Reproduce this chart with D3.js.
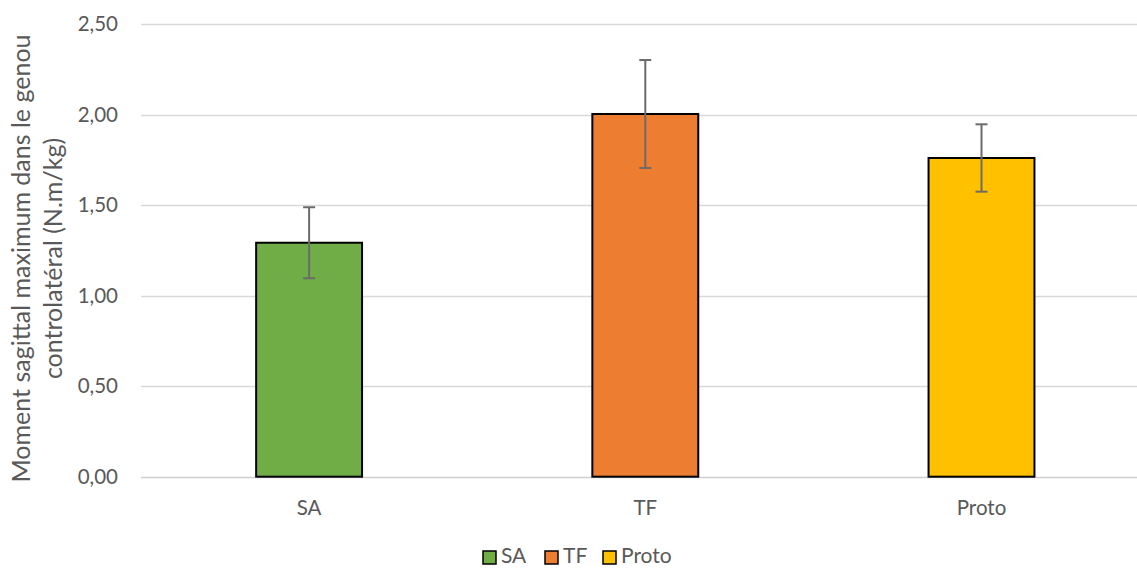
<!DOCTYPE html>
<html><head><meta charset="utf-8">
<script src="https://cdn.jsdelivr.net/npm/d3@7"></script>
<style>body{margin:0;background:#fff}svg{display:block;font-family:Lato,"Open Sans",sans-serif}</style>
</head><body><svg id="c" width="1137" height="568"></svg>
<script>
const categories = ["SA","TF","Proto"];
const values = [1.292, 2.003, 1.760];
const errors = [0.196, 0.298, 0.186];
const colors = ["#70AD47","#ED7D31","#FFC000"];
const yTicks = [0,0.5,1,1.5,2,2.5];
const yTitle = ["Moment sagittal maximum dans le genou","controlatéral (N.m/kg)"];

const svg = d3.select("#c");
const x = d3.scaleBand().domain(categories).range([141,1149.6]).paddingInner(0.685).paddingOuter(0.3425);
const y = d3.scaleLinear().domain([0,2.5]).range([476.7,24]);
const fmt = v => d3.format(".2f")(v).replace(".",",");
const FS = "20.5px";

// gridlines
svg.append("g").selectAll("line").data(yTicks).join("line")
  .attr("x1",141).attr("x2",1137)
  .attr("y1",d=>Math.round(y(d))+0.5).attr("y2",d=>Math.round(y(d))+0.5)
  .attr("stroke",d=>d===0?"#d0d0d0":"#d9d9d9").attr("stroke-width",1.5);

// y axis labels
const yAxis = d3.axisLeft(y).tickValues(yTicks).tickFormat(fmt).tickSize(0).tickPadding(0);
const ga = svg.append("g").attr("transform","translate(118,0)").call(yAxis);
ga.select(".domain").remove();
ga.selectAll("text").attr("fill","#595959").style("font-size",FS).style("font-family","Lato,'Open Sans',sans-serif");

// x axis labels
const xAxis = d3.axisBottom(x).tickSize(0).tickPadding(0);
const gx = svg.append("g").attr("transform","translate(0,515)").call(xAxis);
gx.select(".domain").remove();
gx.selectAll("text").attr("y",0).attr("dy",0).attr("fill","#595959").style("font-size",FS).style("font-family","Lato,'Open Sans',sans-serif");

// bars
svg.append("g").selectAll("rect").data(categories).join("rect")
  .attr("x",d=>x(d)).attr("width",x.bandwidth())
  .attr("y",(d,i)=>y(values[i])).attr("height",(d,i)=>y(0)-y(values[i]))
  .attr("fill",(d,i)=>colors[i]).attr("stroke","#000").attr("stroke-width",2);

// error bars
const eb = svg.append("g").attr("stroke","#6b6b6b").attr("stroke-width",2);
categories.forEach((c,i)=>{
  const cx = x(c)+x.bandwidth()/2;
  const t = y(values[i]+errors[i]), b = y(values[i]-errors[i]);
  eb.append("line").attr("x1",cx).attr("x2",cx).attr("y1",t).attr("y2",b);
  eb.append("line").attr("x1",cx-6).attr("x2",cx+6).attr("y1",t).attr("y2",t);
  eb.append("line").attr("x1",cx-6).attr("x2",cx+6).attr("y1",b).attr("y2",b);
});

// y title
const tt = svg.append("text").attr("transform","translate(0,258.5) rotate(-90)")
  .attr("text-anchor","middle").attr("fill","#595959").style("font-size","25px");
yTitle.forEach((l,i)=>tt.append("tspan").attr("x",0).attr("y",i===0?30:62).text(l));

// legend
const legX = [483,545,603];
const lg = svg.append("g");
categories.forEach((c,i)=>{
  lg.append("rect").attr("x",legX[i]).attr("y",551).attr("width",13).attr("height",13)
    .attr("fill",colors[i]).attr("stroke","#000").attr("stroke-width",1.5);
  lg.append("text").attr("x",legX[i]+18).attr("y",563).attr("fill","#595959").style("font-size","21px").text(c);
});
</script></body></html>
